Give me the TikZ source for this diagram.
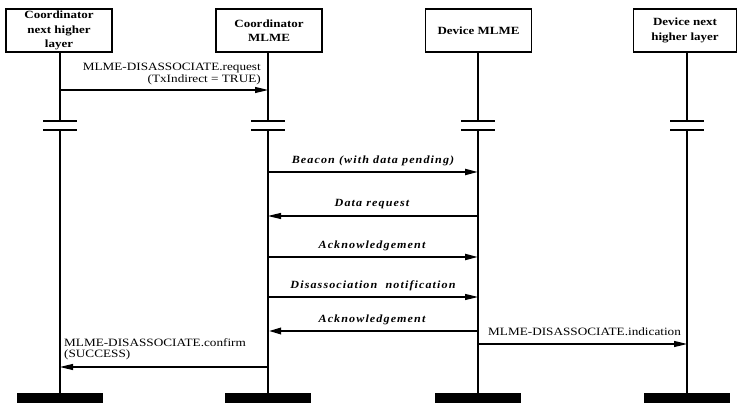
\documentclass[tikz,border=0pt]{standalone}
\usepackage{fontspec}
\setmainfont{Liberation Serif}[FakeStretch=1.18]
\newfontfamily\msgit{Liberation Serif}[FakeStretch=1.1,LetterSpace=10,BoldItalicFont={* Bold Italic}]
\usetikzlibrary{arrows.meta}
\begin{document}
\begin{tikzpicture}[x=1pt,y=-1pt,
  actor/.style={draw,line width=1.6pt,minimum width=106pt,minimum height=43pt,inner sep=1pt,align=center,font=\fontsize{11}{14.5}\selectfont\bfseries},
  life/.style={line width=1.3pt},
  thin/.style={line width=1.2pt,-{Triangle[length=13pt,width=6pt]}},
  thick/.style={line width=2pt,-{Triangle[length=13pt,width=6pt]}},
  thicker/.style={line width=2.8pt,-{Triangle[length=13pt,width=6pt]}},
  lab/.style={inner sep=0pt,font=\fontsize{11.2}{12}\selectfont},
  ilab/.style={inner sep=0pt,font=\fontsize{11}{12}\msgit\bfseries\itshape},
  brk/.style={line width=1.3pt},
  brkb/.style={line width=2.6pt},
  endbar/.style={fill=black,minimum width=86pt,minimum height=10pt,inner sep=0pt}]
\useasboundingbox (0,0) rectangle (737,403);
\node[actor] (A) at (59,30.5) {Coordinator\\next higher\\layer};
\node[actor] (B) at (269,30.5) {Coordinator\\MLME};
\node[actor] (C) at (478.5,30.5) {Device MLME};
\node[actor,minimum width=103pt] (D) at (685,30.5) {Device next\\higher layer};
% lifeline coordinates
\foreach \n/\x in {a/60,b/268,c/478,d/687}{
  \coordinate (\n1) at (\x,121);
  \coordinate (\n2) at (\x,130);
  \node[endbar] (\n e) at (\x,398) {};
  \draw[brk] (\x-17,121) -- (\x+17,121);
  \draw[brkb] (\x-17,130) -- (\x+17,130);
}
\draw[life] (A.south -| a1) -- (a1);
\draw[life] (B.south -| b1) -- (b1);
\draw[life] (C.south -| c1) -- (c1);
\draw[life] (D.south -| d1) -- (d1);
\draw[life] (a2) -- (ae.north);
\draw[life] (b2) -- (be.north);
\draw[life] (c2) -- (ce.north);
\draw[life] (d2) -- (de.north);
% messages
\coordinate (m1a) at (60,90); \coordinate (m1b) at (268,90);
\draw[thin] (m1a) -- (m1b);
\node[lab,anchor=east] (l1a) at (261,68) {MLME-DISASSOCIATE.request};
\node[lab,anchor=east] (l1b) at (261,80) {(TxIndirect = TRUE)};
\coordinate (m2a) at (268,172); \coordinate (m2b) at (478,172);
\draw[thick] (m2a) -- (m2b);
\node[ilab] (l2) at (373,161) {Beacon (with data pending)};
\coordinate (m3a) at (478,216); \coordinate (m3b) at (268,216);
\draw[thin] (m3a) -- (m3b);
\node[ilab] (l3) at (372,204) {Data request};
\coordinate (m4a) at (268,257); \coordinate (m4b) at (478,257);
\draw[thick] (m4a) -- (m4b);
\node[ilab] (l4) at (372,246) {Acknowledgement};
\coordinate (m5a) at (268,297); \coordinate (m5b) at (478,297);
\draw[thin] (m5a) -- (m5b);
\node[ilab] (l5) at (373,286) {Disassociation\ \ notification};
\coordinate (m6a) at (478,331); \coordinate (m6b) at (268,331);
\draw[thicker] (m6a) -- (m6b);
\node[ilab] (l6) at (372,320) {Acknowledgement};
\coordinate (m7a) at (478,344); \coordinate (m7b) at (687,344);
\draw[thin] (m7a) -- (m7b);
\node[lab,anchor=west] (l7) at (488,332) {MLME-DISASSOCIATE.indication};
\coordinate (m8a) at (268,367); \coordinate (m8b) at (60,367);
\draw[thin] (m8a) -- (m8b);
\node[lab,anchor=west] (l8a) at (64,343) {MLME-DISASSOCIATE.confirm};
\node[lab,anchor=west] (l8b) at (64,355) {(SUCCESS)};
\end{tikzpicture}
\end{document}
